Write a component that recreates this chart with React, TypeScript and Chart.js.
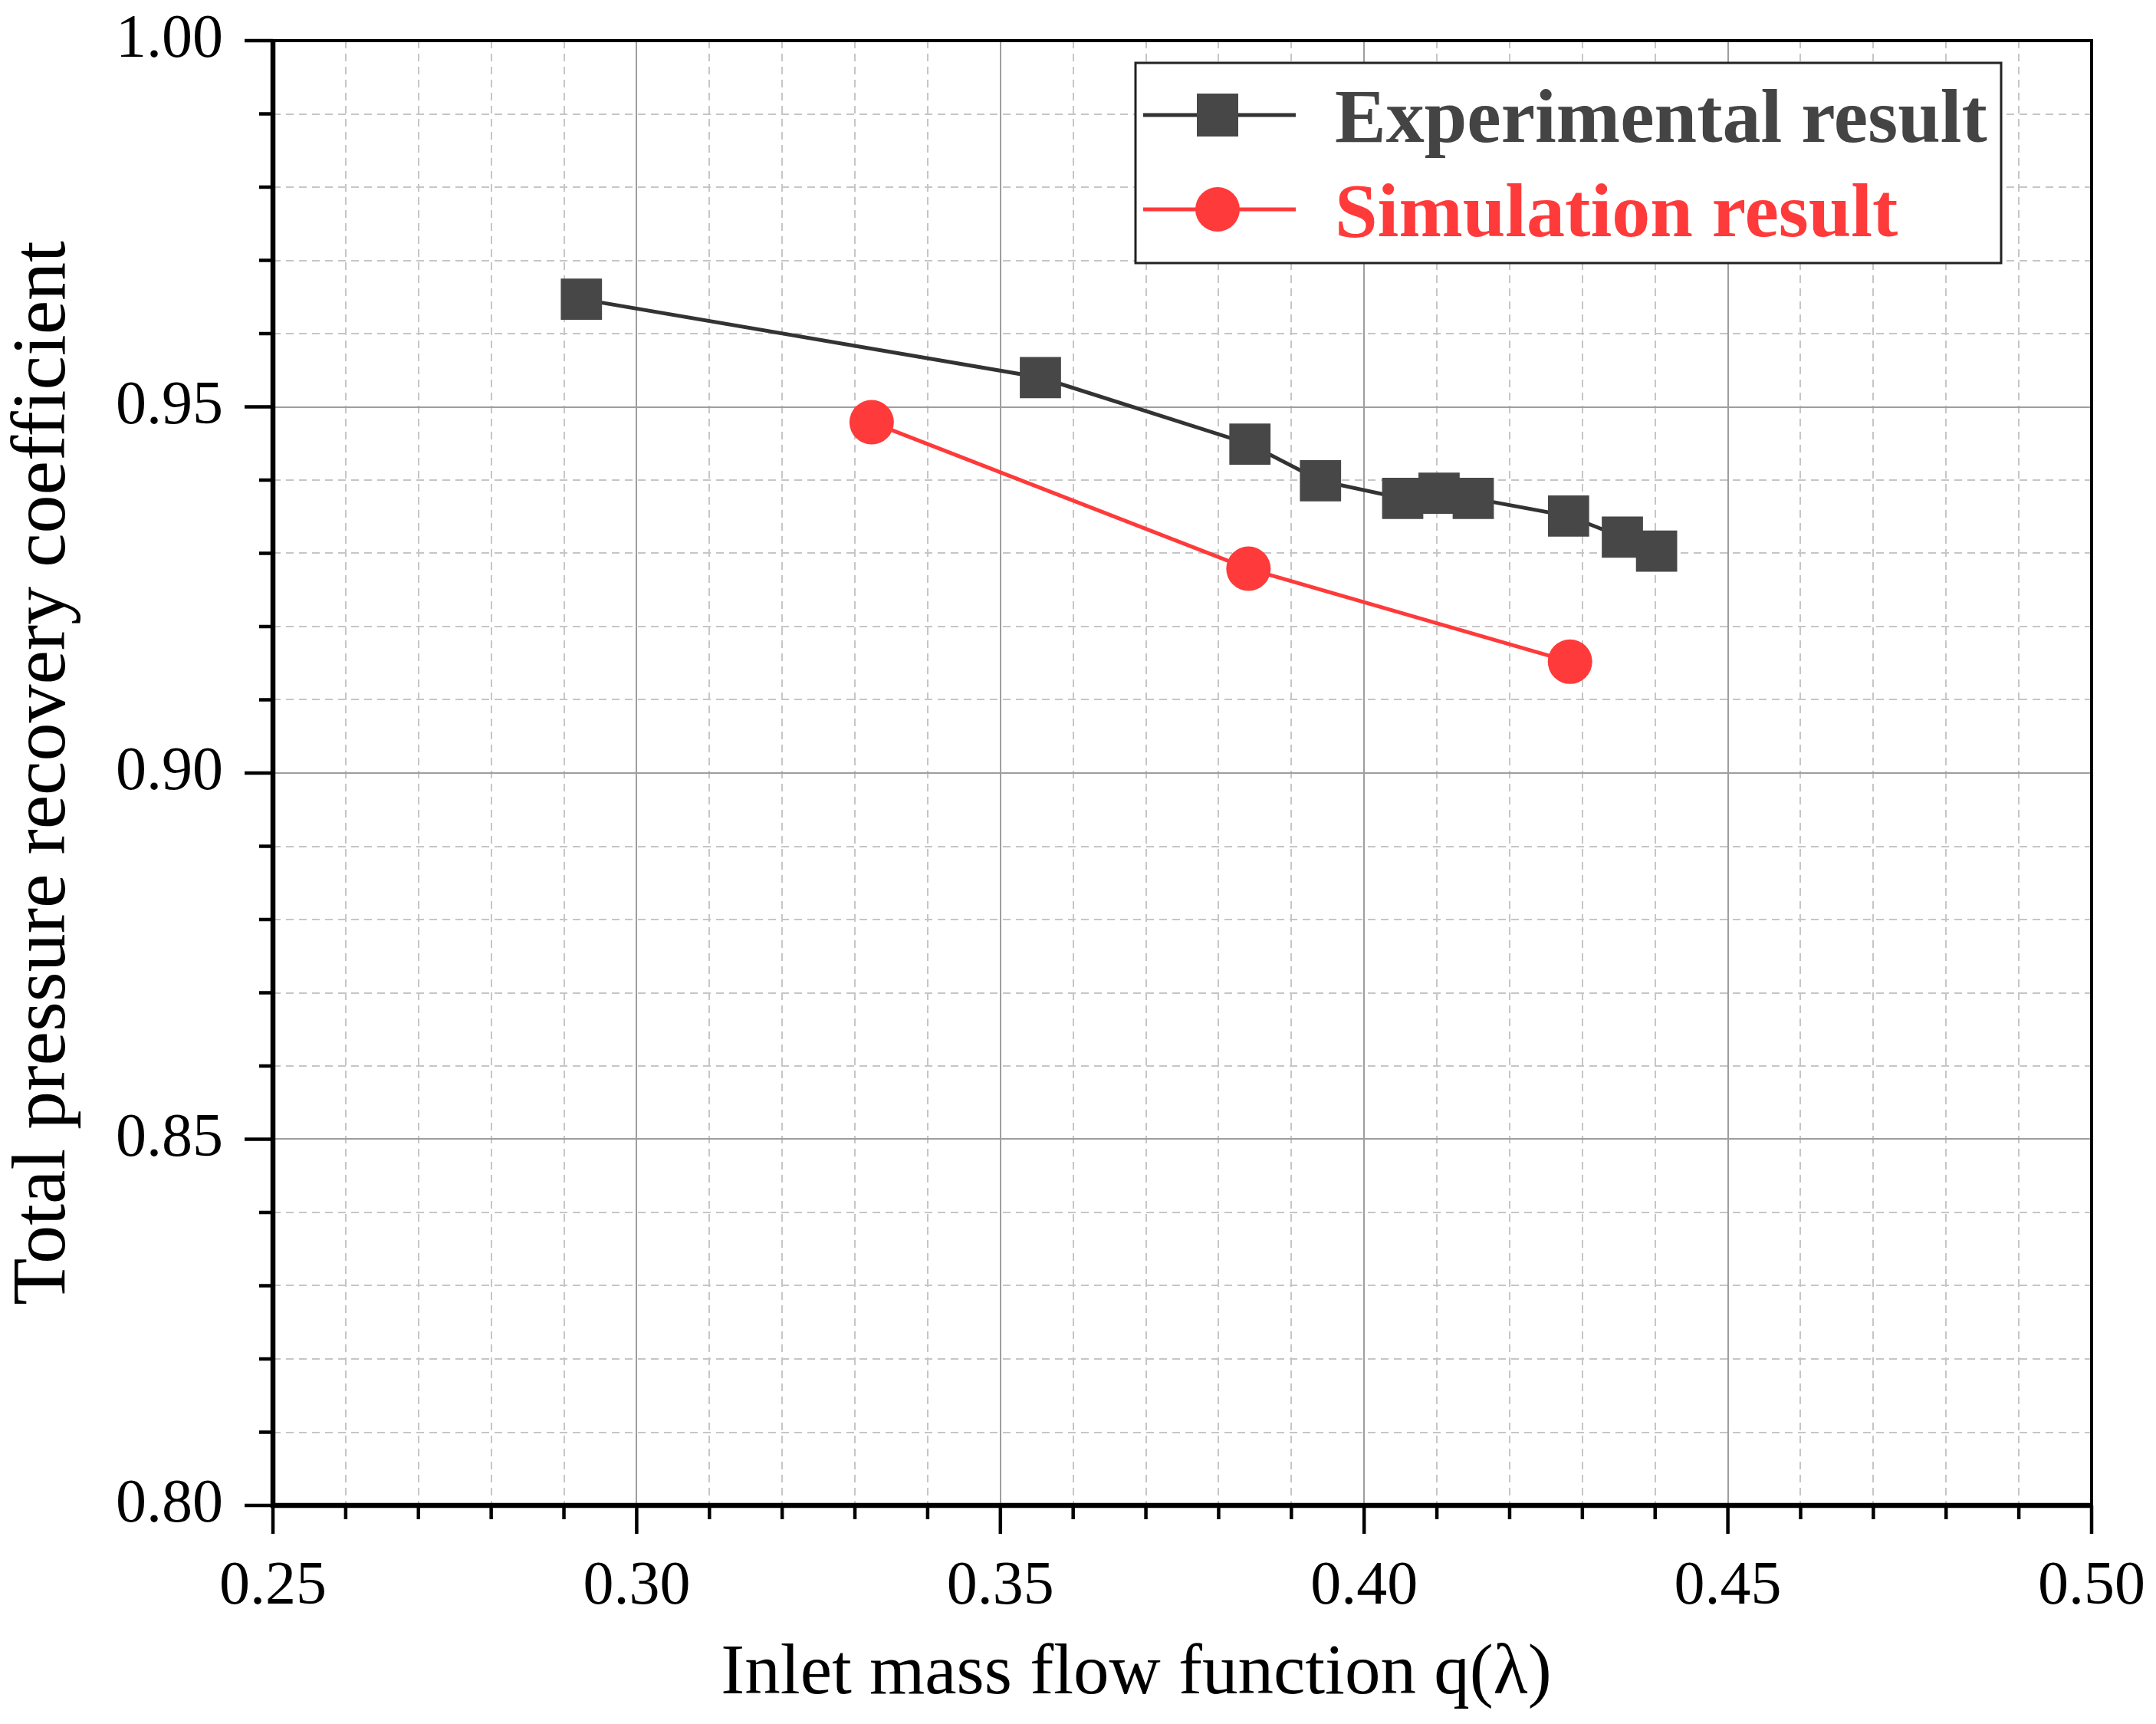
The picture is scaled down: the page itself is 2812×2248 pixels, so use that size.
import { useEffect, useRef } from "react"
import { Chart, registerables } from "chart.js"

Chart.register(...registerables)

const expFlow = [0.2924, 0.3555, 0.3843, 0.394, 0.4053, 0.4103, 0.415, 0.4281, 0.4355, 0.4402]
const expRecovery = [0.9647, 0.954, 0.9449, 0.9399, 0.9375, 0.9382, 0.9375, 0.9351, 0.9322, 0.9303]
const simFlow = [0.3323, 0.3841, 0.4283]
const simRecovery = [0.9479, 0.9279, 0.9152]

const seriesNames = ["Experimental result", "Simulation result"]
const xTitle = "Inlet mass flow function q(\u03bb)"
const yTitle = "Total pressure recovery coefficient"

const EXP_COLOR = "#474747"
const EXP_LINE = "#333333"
const SIM_COLOR = "#ff3a3a"
const FONT = "'Liberation Serif', 'Times New Roman', serif"

const isMajor = (v: number) => Math.round(v * 100) % 5 === 0

// minor/major tick marks, frame, x title and the boxed legend
const framePlugin = {
  id: "frame",
  afterDraw(chart: Chart) {
    const { ctx, chartArea: a } = chart
    const xs = chart.scales.x
    const ys = chart.scales.y
    ctx.save()
    ctx.strokeStyle = "#000"
    ctx.lineWidth = 4.5
    xs.ticks.forEach((t) => {
      const px = xs.getPixelForValue(t.value)
      const len = isMajor(t.value) ? 37 : 18
      ctx.beginPath()
      ctx.moveTo(px, a.bottom)
      ctx.lineTo(px, a.bottom + len)
      ctx.stroke()
    })
    ys.ticks.forEach((t) => {
      const py = ys.getPixelForValue(t.value)
      const len = isMajor(t.value) ? 37 : 18
      ctx.beginPath()
      ctx.moveTo(a.left, py)
      ctx.lineTo(a.left - len, py)
      ctx.stroke()
    })
    // frame
    ctx.lineWidth = 4
    ctx.beginPath()
    ctx.moveTo(a.left, a.top)
    ctx.lineTo(a.right, a.top)
    ctx.lineTo(a.right, a.bottom)
    ctx.stroke()
    ctx.lineWidth = 6.5
    ctx.beginPath()
    ctx.moveTo(a.left, a.top - 2)
    ctx.lineTo(a.left, a.bottom)
    ctx.lineTo(a.right + 2, a.bottom)
    ctx.stroke()

    // x axis title (sits a little left of centre in the original)
    ctx.fillStyle = "#000"
    ctx.font = `93px ${FONT}`
    ctx.textAlign = "center"
    ctx.textBaseline = "alphabetic"
    ctx.fillText(xTitle, (a.left + a.right) / 2 - 60, a.bottom + 245)

    // legend
    const lx = a.left + 1125
    const ly = a.top + 29
    const lw = 1129
    const lh = 261
    ctx.fillStyle = "#fff"
    ctx.fillRect(lx, ly, lw, lh)
    ctx.strokeStyle = "#222"
    ctx.lineWidth = 3
    ctx.strokeRect(lx, ly, lw, lh)

    const rows = [
      { y: ly + 68, color: EXP_COLOR, line: EXP_LINE, shape: "rect" },
      { y: ly + 191, color: SIM_COLOR, line: SIM_COLOR, shape: "circle" },
    ]
    rows.forEach((r, i) => {
      ctx.strokeStyle = r.line
      ctx.lineWidth = 5
      ctx.beginPath()
      ctx.moveTo(lx + 10, r.y)
      ctx.lineTo(lx + 209, r.y)
      ctx.stroke()
      ctx.fillStyle = r.color
      const cx = lx + 107
      if (r.shape === "rect") {
        ctx.fillRect(cx - 27, r.y - 28, 54, 56)
      } else {
        ctx.beginPath()
        ctx.arc(cx, r.y, 29, 0, Math.PI * 2)
        ctx.fill()
      }
      ctx.font = `bold 100px ${FONT}`
      ctx.textAlign = "left"
      ctx.textBaseline = "alphabetic"
      ctx.fillStyle = i === 0 ? "#444444" : SIM_COLOR
      ctx.fillText(seriesNames[i], lx + 260, r.y + 35)
    })
    ctx.restore()
  },
}

export default function App() {
  const canvasRef = useRef<HTMLCanvasElement | null>(null)
  const chartRef = useRef<Chart | null>(null)

  useEffect(() => {
    if (!canvasRef.current) return
    if (chartRef.current) chartRef.current.destroy()

    const gridColor = (ctx: any) =>
      ctx.tick && isMajor(ctx.tick.value) ? "#9e9e9e" : "#c6c6c6"
    const gridDash = (ctx: any) =>
      ctx.tick && isMajor(ctx.tick.value) ? [] : [10, 7]
    const label = (v: string | number) => {
      const n = Number(v)
      return isMajor(n) ? n.toFixed(2) : ""
    }

    chartRef.current = new Chart(canvasRef.current, {
      type: "scatter",
      data: {
        datasets: [
          {
            label: seriesNames[0],
            data: expFlow.map((x, i) => ({ x, y: expRecovery[i] })),
            showLine: true,
            borderColor: EXP_LINE,
            borderWidth: 5,
            backgroundColor: EXP_COLOR,
            pointBackgroundColor: EXP_COLOR,
            pointBorderColor: EXP_COLOR,
            pointBorderWidth: 0,
            pointStyle: "rect",
            pointRadius: 38,
            tension: 0,
          },
          {
            label: seriesNames[1],
            data: simFlow.map((x, i) => ({ x, y: simRecovery[i] })),
            showLine: true,
            borderColor: SIM_COLOR,
            borderWidth: 5,
            backgroundColor: SIM_COLOR,
            pointBackgroundColor: SIM_COLOR,
            pointBorderColor: SIM_COLOR,
            pointBorderWidth: 0,
            pointStyle: "circle",
            pointRadius: 29,
            tension: 0,
          },
        ],
      },
      options: {
        animation: false,
        responsive: true,
        maintainAspectRatio: false,
        layout: { padding: { top: 45, right: 76, bottom: 0, left: 0 } },
        plugins: {
          legend: { display: false },
          tooltip: { enabled: false },
        },
        scales: {
          x: {
            type: "linear",
            min: 0.25,
            max: 0.5,
            afterFit: (s: any) => {
              s.height = 277
              s.paddingLeft = 0
              s.paddingRight = 0
            },
            ticks: {
              stepSize: 0.01,
              autoSkip: false,
              maxRotation: 0,
              padding: 30,
              color: "#000",
              font: { family: FONT, size: 80, lineHeight: 1 },
              callback: label,
            },
            grid: {
              color: gridColor,
              lineWidth: 2,
              drawTicks: true,
              tickLength: 37,
              tickColor: "rgba(0,0,0,0)",
            },
            border: { display: false, dash: gridDash },
            title: { display: false },
          },
          y: {
            type: "linear",
            min: 0.8,
            max: 1.0,
            afterFit: (s: any) => {
              s.width = 348
              s.paddingTop = 0
              s.paddingBottom = 0
            },
            ticks: {
              stepSize: 0.01,
              autoSkip: false,
              padding: 28,
              color: "#000",
              font: { family: FONT, size: 80, lineHeight: 1 },
              callback: label,
            },
            grid: {
              color: gridColor,
              lineWidth: 2,
              drawTicks: true,
              tickLength: 37,
              tickColor: "rgba(0,0,0,0)",
            },
            border: { display: false, dash: gridDash },
            title: {
              display: true,
              text: yTitle,
              color: "#000",
              padding: { top: 0, bottom: 0 },
              font: { family: FONT, size: 100, lineHeight: 1 },
            },
          },
        },
      },
      plugins: [framePlugin],
    })

    return () => {
      if (chartRef.current) {
        chartRef.current.destroy()
        chartRef.current = null
      }
    }
  }, [])

  return (
    <div style={{ width: 2796, height: 2232, background: "#fff" }}>
      <canvas ref={canvasRef} />
    </div>
  )
}
